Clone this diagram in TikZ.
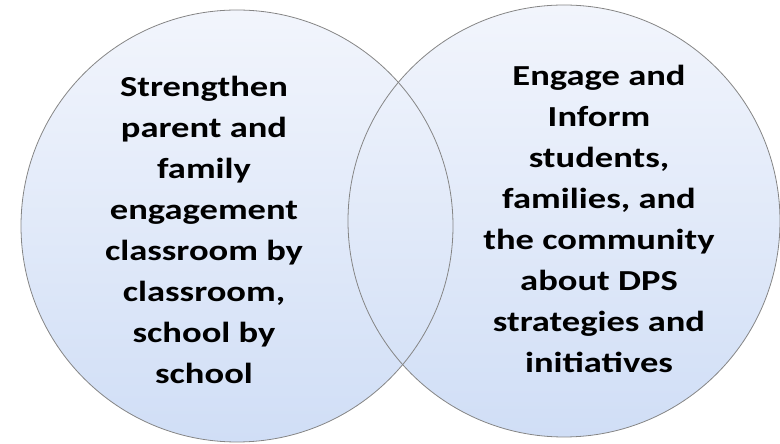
\documentclass[tikz,border=0pt]{standalone}
\usepackage{fontspec}
\setmainfont{Carlito}
\newfontfamily\vennfont[FakeStretch=1.26]{Carlito}
\usetikzlibrary{positioning}

\definecolor{venntop}{HTML}{F2F5FC}
\definecolor{vennbottom}{HTML}{D0DEF6}
\definecolor{vennrim}{HTML}{858585}

\begin{document}
\begin{tikzpicture}[x=1pt,y=1pt,
  venn/.style={circle,minimum size=432pt,inner sep=0pt,
    top color=venntop,bottom color=vennbottom},
  blurb/.style={align=center,inner sep=0pt,
    font=\vennfont\bfseries\fontsize{29}{41}\selectfont}]
\useasboundingbox (0,0) rectangle (780,444);
% Circles
\node[venn] (left) at (237,218) {};
\node[venn] (right) at (564,223) {};
% Outlines last, so both arcs show in the overlap
\draw[vennrim,line width=0.8pt] (left.center) circle[radius=216];
\draw[vennrim,line width=0.8pt] (right.center) circle[radius=216];
% Texts
\node[blurb] (goalA) at ([xshift=-33pt,yshift=-4pt]left.center)
  {Strengthen\\parent and\\family\\engagement\\classroom by\\classroom,\\school by\\school};
\node[blurb] (goalB) at ([xshift=35pt,yshift=2.5pt]right.center)
  {Engage and\\Inform\\students,\\families, and\\the community\\about DPS\\strategies and\\initiatives};
\end{tikzpicture}
\end{document}
